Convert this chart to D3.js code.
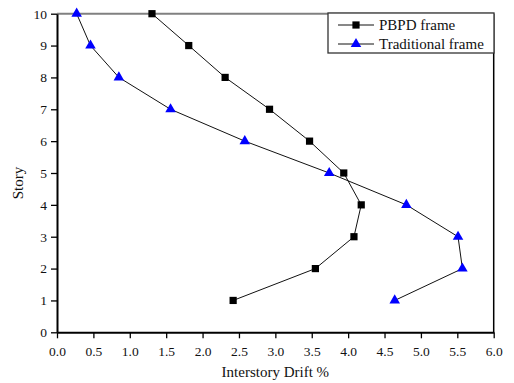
<!DOCTYPE html>
<html>
<head>
<meta charset="utf-8">
<script src="https://cdn.jsdelivr.net/npm/d3@7"></script>
<style>
  body { margin: 0; background: #fff; }
  text { font-family: "Liberation Serif", "Times New Roman", serif; fill: #111; }
</style>
</head>
<body>
<div id="chart"></div>
<script>
const stories = [10, 9, 8, 7, 6, 5, 4, 3, 2, 1];
const pbpdDrift = [1.305, 1.81, 2.31, 2.92, 3.47, 3.94, 4.18, 4.08, 3.55, 2.42];
const tradDrift = [0.27, 0.46, 0.85, 1.56, 2.58, 3.74, 4.80, 5.51, 5.57, 4.64];
const xTicks = [0, 0.5, 1, 1.5, 2, 2.5, 3, 3.5, 4, 4.5, 5, 5.5, 6];
const yTicks = [0, 1, 2, 3, 4, 5, 6, 7, 8, 9, 10];
const seriesNames = ["PBPD frame", "Traditional frame"];

const width = 514, height = 383;
const margin = { top: 13.7, right: 20.3, bottom: 50.7, left: 57 };
const innerW = width - margin.left - margin.right;
const innerH = height - margin.top - margin.bottom;

const x = d3.scaleLinear().domain([0, 6]).range([0, innerW]);
const y = d3.scaleLinear().domain([0, 10]).range([innerH, 0]);

const svg = d3.select("#chart").append("svg")
  .attr("width", width).attr("height", height);

const g = svg.append("g")
  .attr("transform", `translate(${margin.left},${margin.top})`);

// top and right frame
g.append("line")
  .attr("x1", 0).attr("x2", innerW).attr("y1", 0).attr("y2", 0)
  .attr("stroke", "#808080").attr("stroke-width", 2);
g.append("line")
  .attr("x1", innerW).attr("x2", innerW).attr("y1", 0).attr("y2", innerH)
  .attr("stroke", "#000").attr("stroke-width", 1.5);

// axes
const xAxis = g.append("g")
  .attr("transform", `translate(0,${innerH})`)
  .call(d3.axisBottom(x).tickValues(xTicks).tickFormat(d3.format(".1f")).tickSize(6).tickSizeOuter(0));
const yAxis = g.append("g")
  .call(d3.axisLeft(y).tickValues(yTicks).tickFormat(d3.format("d")).tickSize(6).tickSizeOuter(0));

[xAxis, yAxis].forEach(a => {
  a.select(".domain").attr("stroke", "#000").attr("stroke-width", 2);
  a.selectAll(".tick line").attr("stroke", "#000").attr("stroke-width", 1.3);
  a.selectAll(".tick text")
    .style("font-family", "'Liberation Serif', serif")
    .style("font-size", "13.5px").attr("fill", "#111");
});
xAxis.selectAll(".tick text").attr("dy", "1.1em");
yAxis.selectAll(".tick text").attr("x", -10);

// axis titles
svg.append("text")
  .attr("x", margin.left + innerW / 2).attr("y", 377)
  .attr("text-anchor", "middle").style("font-size", "15px")
  .text("Interstory Drift %");
svg.append("text")
  .attr("transform", `translate(23,183) rotate(-90)`)
  .attr("text-anchor", "middle").style("font-size", "15px")
  .text("Story");

const line = d3.line().x(d => x(d[0])).y(d => y(d[1]));
const pbpd = pbpdDrift.map((v, i) => [v, stories[i]]);
const trad = tradDrift.map((v, i) => [v, stories[i]]);

g.append("path").datum(pbpd).attr("d", line)
  .attr("fill", "none").attr("stroke", "#111").attr("stroke-width", 1);
g.append("path").datum(trad).attr("d", line)
  .attr("fill", "none").attr("stroke", "#111").attr("stroke-width", 1);

const square = d3.symbol().type(d3.symbolSquare).size(52);
const tri = d3.symbol().type(d3.symbolTriangle).size(48);

g.selectAll("path.sq").data(pbpd).join("path")
  .attr("class", "sq")
  .attr("transform", d => `translate(${x(d[0])},${y(d[1])})`)
  .attr("d", square).attr("fill", "#000");
g.selectAll("path.tri").data(trad).join("path")
  .attr("class", "tri")
  .attr("transform", d => `translate(${x(d[0])},${y(d[1])})`)
  .attr("d", tri).attr("fill", "#0000ff");

// legend
const lx = 328, ly = 13;
svg.append("rect")
  .attr("x", lx).attr("y", ly).attr("width", 166).attr("height", 40)
  .attr("fill", "#fff").attr("stroke", "#333").attr("stroke-width", 1.3);
seriesNames.forEach((name, i) => {
  const cy = ly + 12 + i * 19;
  svg.append("line")
    .attr("x1", lx + 10).attr("x2", lx + 46).attr("y1", cy).attr("y2", cy)
    .attr("stroke", "#111").attr("stroke-width", 1);
  svg.append("path")
    .attr("transform", `translate(${lx + 28},${cy})`)
    .attr("d", i === 0 ? square : tri)
    .attr("fill", i === 0 ? "#000" : "#0000ff");
  svg.append("text")
    .attr("x", lx + 51).attr("y", cy + 5)
    .style("font-size", "15px")
    .text(name);
});
</script>
</body>
</html>
